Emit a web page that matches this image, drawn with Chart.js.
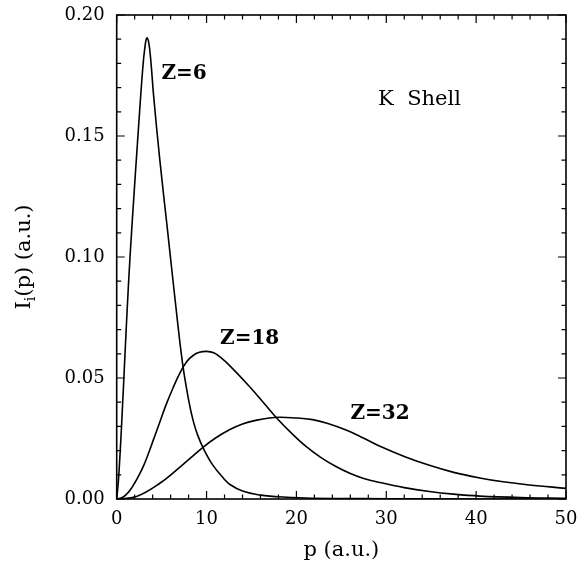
<!DOCTYPE html>
<html>
<head>
<meta charset="utf-8">
<script src="https://cdn.jsdelivr.net/npm/chart.js@4/dist/chart.umd.min.js"></script>
<style>
html,body{margin:0;padding:0;background:#fff;}
#wrap{width:577px;height:563px;}
</style>
</head>
<body>
<div id="wrap"><canvas id="c" width="577" height="563"></canvas></div>
<script>
// ---- data ----
const pZ6 = [0, 0.2, 0.55, 0.9, 1.3, 1.7, 2.4, 2.9, 3.15, 3.35, 3.55, 3.8, 4.1, 4.8, 5.6, 6.45, 7.33, 8.0, 8.5, 9.0, 9.7, 10.7, 11.9, 12.6, 14, 16, 18, 21, 25, 30, 40, 50];
const iZ6 = [0, 0.008, 0.031, 0.058, 0.088, 0.113, 0.152, 0.178, 0.187, 0.1905, 0.189, 0.181, 0.167, 0.140, 0.113, 0.084, 0.056, 0.041, 0.0325, 0.0265, 0.0205, 0.014, 0.0085, 0.006, 0.0033, 0.0016, 0.0009, 0.0004, 0.0002, 0.0001, 0, 0];
const pZ18 = [0, 0.5, 1.0, 1.5, 2.0, 2.5, 3.0, 3.5, 4.0, 4.8, 5.5, 6.3, 7.0, 7.8, 8.5, 9.2, 10.0, 10.8, 11.6, 12.6, 14.8, 16.3, 17.8, 19.5, 21.1, 22.7, 24.4, 26, 27.4, 29.3, 32, 34.8, 37.5, 40.4, 45, 50];
const iZ18 = [0, 0.0004, 0.0016, 0.0037, 0.0066, 0.0100, 0.0138, 0.0185, 0.0236, 0.0318, 0.0390, 0.0462, 0.0518, 0.0568, 0.0593, 0.0606, 0.061, 0.0604, 0.0584, 0.0550, 0.0464, 0.0400, 0.0335, 0.0270, 0.0216, 0.0172, 0.0134, 0.0105, 0.0086, 0.0068, 0.0047, 0.0031, 0.0020, 0.0012, 0.0006, 0.0003];
const pZ32 = [0, 2.2, 4.8, 7.2, 9.7, 11, 12.6, 14, 15.6, 17, 18.1, 19.5, 21.8, 23.5, 25.6, 27.5, 29.3, 32, 34.8, 37.5, 40.4, 43, 45.9, 50];
const iZ32 = [0, 0.001, 0.0065, 0.0137, 0.0216, 0.0252, 0.0287, 0.0310, 0.0326, 0.0335, 0.0338, 0.0336, 0.0328, 0.0312, 0.0284, 0.0251, 0.0218, 0.0176, 0.0139, 0.0110, 0.0087, 0.0071, 0.0058, 0.0044];

const xTicks = [0, 10, 20, 30, 40, 50];
const yTicks = [0, 0.05, 0.10, 0.15, 0.20];
const xMinorStep = 2;
const yMinorStep = 0.01;

const curveLabels = [
  {text: 'Z=6', p: 7.5, v: 0.1758},
  {text: 'Z=18', p: 14.8, v: 0.0661},
  {text: 'Z=32', p: 29.3, v: 0.0351}
];
const panelLabel = {text: 'K  Shell', p: 33.7, v: 0.165};

const SERIF = '"DejaVu Serif", "Liberation Serif", serif';

function toXY(px, vy) { return px.map((p, i) => ({x: p, y: vy[i]})); }

const lineStyle = {
  showLine: true, borderColor: '#000', borderWidth: 1.6, pointRadius: 0,
  tension: 0.4, fill: false
};

const framePlugin = {
  id: 'frame',
  afterDatasetsDraw(chart) {
    const {ctx, chartArea: a, scales: {x, y}} = chart;
    ctx.save();
    ctx.strokeStyle = '#000';
    ctx.lineWidth = 1.6;
    ctx.strokeRect(a.left, a.top, a.right - a.left, a.bottom - a.top);
    ctx.lineWidth = 1.2;
    ctx.beginPath();
    for (let p = 0; p <= 50 + 1e-9; p += xMinorStep) {
      const major = Math.abs(p % 10) < 1e-9;
      const len = major ? 8 : 4.5;
      const px = x.getPixelForValue(p);
      ctx.moveTo(px, a.bottom); ctx.lineTo(px, a.bottom - len);
      ctx.moveTo(px, a.top); ctx.lineTo(px, a.top + len);
    }
    for (let k = 0; k <= 20; k++) {
      const v = k * yMinorStep;
      const major = k % 5 === 0;
      const len = major ? 8 : 4.5;
      const py = y.getPixelForValue(v);
      ctx.moveTo(a.left, py); ctx.lineTo(a.left + len, py);
      ctx.moveTo(a.right, py); ctx.lineTo(a.right - len, py);
    }
    ctx.stroke();

    // curve labels
    ctx.fillStyle = '#000';
    ctx.textAlign = 'center';
    ctx.textBaseline = 'middle';
    ctx.font = 'bold 20px ' + SERIF;
    curveLabels.forEach(l => {
      ctx.fillText(l.text, x.getPixelForValue(l.p), y.getPixelForValue(l.v));
    });
    ctx.font = '21px ' + SERIF;
    ctx.fillText(panelLabel.text, x.getPixelForValue(panelLabel.p), y.getPixelForValue(panelLabel.v));

    // y-axis title with subscript
    ctx.translate(23, (a.top + a.bottom) / 2);
    ctx.rotate(-Math.PI / 2);
    const big = '21px ' + SERIF, small = '14px ' + SERIF;
    ctx.font = big; const w1 = ctx.measureText('I').width;
    ctx.font = small; const w2 = ctx.measureText('i').width;
    ctx.font = big; const w3 = ctx.measureText('(p) (a.u.)').width;
    let sx = -(w1 + w2 + w3) / 2;
    ctx.textAlign = 'left';
    ctx.textBaseline = 'alphabetic';
    ctx.font = big; ctx.fillText('I', sx, 7); sx += w1;
    ctx.font = small; ctx.fillText('i', sx, 12); sx += w2;
    ctx.font = big; ctx.fillText('(p) (a.u.)', sx, 7);
    ctx.restore();
  }
};

new Chart(document.getElementById('c'), {
  type: 'scatter',
  data: {
    datasets: [
      Object.assign({label: 'Z=6', data: toXY(pZ6, iZ6)}, lineStyle),
      Object.assign({label: 'Z=18', data: toXY(pZ18, iZ18)}, lineStyle),
      Object.assign({label: 'Z=32', data: toXY(pZ32, iZ32)}, lineStyle)
    ]
  },
  options: {
    responsive: false,
    animation: false,
    layout: {padding: {top: 15, right: 11, left: 0, bottom: 0}},
    plugins: {legend: {display: false}, tooltip: {enabled: false}},
    scales: {
      x: {
        type: 'linear', min: 0, max: 50,
        afterBuildTicks(s) { s.ticks = xTicks.map(v => ({value: v})); },
        afterFit(s) { s.height = 64; s.paddingLeft = 0; s.paddingRight = 0; },
        grid: {display: false, drawTicks: false},
        border: {display: false},
        ticks: {color: '#000', font: {family: SERIF, size: 18}, padding: 10, maxRotation: 0,
                callback: v => String(v)},
        title: {display: true, text: 'p (a.u.)', color: '#000',
                font: {family: SERIF, size: 21}, padding: {top: 0, bottom: 0}}
      },
      y: {
        type: 'linear', min: 0, max: 0.2,
        afterBuildTicks(s) { s.ticks = yTicks.map(v => ({value: v})); },
        afterFit(s) { s.width = 116.7; s.paddingTop = 0; s.paddingBottom = 0; },
        grid: {display: false, drawTicks: false},
        border: {display: false},
        ticks: {color: '#000', font: {family: SERIF, size: 18}, padding: 12,
                callback: v => v.toFixed(2)}
      }
    }
  },
  plugins: [framePlugin]
});
</script>
</body>
</html>
